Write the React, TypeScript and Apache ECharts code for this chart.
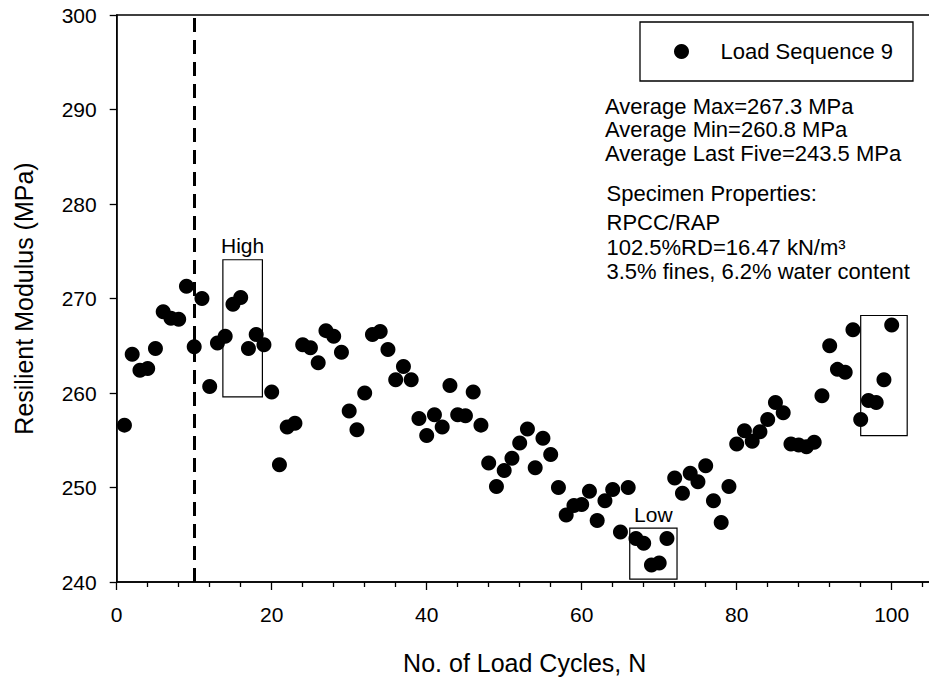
import React, { useEffect, useRef } from "react";
import * as echarts from "echarts";

const FONT = "'Liberation Sans', Arial, Helvetica, sans-serif";

const cycles = [
  1, 2, 3, 4, 5, 6, 7, 8, 9, 10, 11, 12, 13, 14, 15, 16, 17, 18, 19, 20,
  21, 22, 23, 24, 25, 26, 27, 28, 29, 30, 31, 32, 33, 34, 35, 36, 37, 38, 39, 40,
  41, 42, 43, 44, 45, 46, 47, 48, 49, 50, 51, 52, 53, 54, 55, 56, 57, 58, 59, 60,
  61, 62, 63, 64, 65, 66, 67, 68, 69, 70, 71, 72, 73, 74, 75, 76, 77, 78, 79, 80,
  81, 82, 83, 84, 85, 86, 87, 88, 89, 90, 91, 92, 93, 94, 95, 96, 97, 98, 99, 100,
];

const modulus = [
  256.6, 264.1, 262.4, 262.6, 264.7, 268.6, 267.9, 267.8, 271.3, 264.9,
  270.0, 260.7, 265.3, 266.0, 269.4, 270.1, 264.7, 266.2, 265.1, 260.1,
  252.4, 256.4, 256.8, 265.1, 264.8, 263.2, 266.6, 266.0, 264.3, 258.1,
  256.1, 260.0, 266.2, 266.5, 264.6, 261.4, 262.8, 261.4, 257.3, 255.5,
  257.7, 256.4, 260.8, 257.7, 257.6, 260.1, 256.6, 252.6, 250.1, 251.8,
  253.1, 254.7, 256.2, 252.1, 255.2, 253.5, 250.0, 247.1, 248.1, 248.2,
  249.6, 246.5, 248.6, 249.8, 245.3, 250.0, 244.6, 244.1, 241.8, 242.0,
  244.6, 251.0, 249.4, 251.5, 250.6, 252.3, 248.6, 246.3, 250.1, 254.6,
  256.0, 254.9, 255.9, 257.2, 259.0, 257.9, 254.6, 254.5, 254.3, 254.8,
  259.7, 265.0, 262.5, 262.2, 266.7, 257.2, 259.2, 259.0, 261.4, 267.2,
];

const xTicks = [0, 20, 40, 60, 80, 100];
const yTicks = [240, 250, 260, 270, 280, 290, 300];

const seriesName = "Load Sequence 9";
const dividerCycle = 10;

// boxes: label, x range, y range
const boxLabels = ["High", "Low", ""];
const boxX0 = [13.7, 66.2, 96.0];
const boxX1 = [18.8, 72.3, 102.0];
const boxY0 = [259.6, 240.3, 255.5];
const boxY1 = [274.1, 245.7, 268.2];

const statLines = [
  "Average Max=267.3 MPa",
  "Average Min=260.8 MPa",
  "Average Last Five=243.5 MPa",
];
const propLines = [
  "Specimen Properties:",
  "RPCC/RAP",
  "102.5%RD=16.47 kN/m³",
  "3.5% fines, 6.2% water content",
];

export default function App() {
  const ref = useRef<HTMLDivElement>(null);

  useEffect(() => {
    document.body.style.margin = "0";
    document.body.style.overflow = "hidden";
    if (!ref.current) return;
    const chart = echarts.init(ref.current, undefined, { renderer: "svg" });

    const statY = [106, 129.5, 153];
    const propY = [193, 222, 247.5, 271.5];

    const graphics: any[] = [];
    statLines.forEach((t, i) => {
      graphics.push({
        type: "text",
        x: 605,
        y: statY[i],
        style: {
          text: t,
          fill: "#000",
          font: `22px ${FONT}`,
          textAlign: "left",
          verticalAlign: "middle",
        },
      });
    });
    propLines.forEach((t, i) => {
      graphics.push({
        type: "text",
        x: 606.5,
        y: propY[i],
        style: {
          text: t,
          fill: "#000",
          font: `22px ${FONT}`,
          textAlign: "left",
          verticalAlign: "middle",
        },
      });
    });

    const option: any = {
      animation: false,
      backgroundColor: "#fff",
      textStyle: { fontFamily: FONT },
      grid: {
        left: 116.7,
        top: 15,
        width: 930,
        height: 570,
        show: true,
        borderColor: "#000",
        borderWidth: 1.3,
        backgroundColor: "transparent",
      },
      legend: {
        left: 640,
        top: 22,
        orient: "horizontal",
        padding: [18.5, 20, 18.5, 34],
        borderColor: "#000",
        borderWidth: 1.3,
        itemWidth: 68,
        itemHeight: 15,
        icon: "circle",
        selectedMode: false,
        data: [seriesName],
        itemStyle: { color: "#000", opacity: 1 },
        textStyle: { fontSize: 22, color: "#000", fontFamily: FONT, lineHeight: 21 },
      },
      xAxis: {
        type: "value",
        min: 0,
        max: 120,
        interval: 20,
        name: "No. of Load Cycles, N",
        nameLocation: "middle",
        nameGap: 68,
        nameTextStyle: { fontSize: 25, color: "#000", fontFamily: FONT, padding: [0, 114, 0, 0] },
        axisLine: { show: true, onZero: false, lineStyle: { color: "#000", width: 1.5 } },
        axisTick: { show: true, inside: false, length: 8, lineStyle: { color: "#000", width: 1.3 } },
        minorTick: { show: true, splitNumber: 5, length: 5, lineStyle: { color: "#000", width: 1.3 } },
        splitLine: { show: false },
        minorSplitLine: { show: false },
        axisLabel: {
          show: true,
          margin: 22,
          fontSize: 21,
          color: "#000",
          fontFamily: FONT,
          formatter: (v: number) => (xTicks.indexOf(v) >= 0 ? String(v) : ""),
        },
      },
      yAxis: {
        type: "value",
        min: 240,
        max: 300,
        interval: 10,
        name: "Resilient Modulus (MPa)",
        nameLocation: "middle",
        nameGap: 80,
        nameTextStyle: { fontSize: 25, color: "#000", fontFamily: FONT },
        axisLine: { show: true, onZero: false, lineStyle: { color: "#000", width: 1.5 } },
        axisTick: { show: true, inside: false, length: 7, lineStyle: { color: "#000", width: 1.3 } },
        splitLine: { show: false },
        axisLabel: {
          show: true,
          margin: 20,
          fontSize: 21,
          color: "#000",
          fontFamily: FONT,
          formatter: (v: number) => (yTicks.indexOf(v) >= 0 ? String(v) : ""),
        },
      },
      series: [
        {
          name: seriesName,
          type: "scatter",
          symbol: "circle",
          symbolSize: 15,
          itemStyle: { color: "#000", opacity: 1 },
          data: cycles.map((c, i) => [c, modulus[i]]),
          z: 3,
          markLine: {
            silent: true,
            symbol: ["none", "none"],
            label: { show: false },
            lineStyle: { color: "#000", width: 3, type: [14, 8], opacity: 1 },
            emphasis: { disabled: true },
            data: [{ xAxis: dividerCycle }],
          },
          markArea: {
            silent: true,
            itemStyle: {
              color: "rgba(0,0,0,0)",
              borderColor: "#000",
              borderWidth: 1.2,
            },
            label: {
              show: true,
              position: "top",
              distance: 3,
              color: "#000",
              fontSize: 21,
              fontFamily: FONT,
            },
            data: boxLabels.map((lab, i) => [
              { name: lab, xAxis: boxX0[i], yAxis: boxY1[i] },
              { xAxis: boxX1[i], yAxis: boxY0[i] },
            ]),
          },
        },
      ],
      graphic: graphics,
    };

    chart.setOption(option);
    return () => chart.dispose();
  }, []);

  return (
    <div
      ref={ref}
      style={{ position: "fixed", left: 0, top: 0, width: 1060, height: 680, background: "#fff" }}
    />
  );
}
